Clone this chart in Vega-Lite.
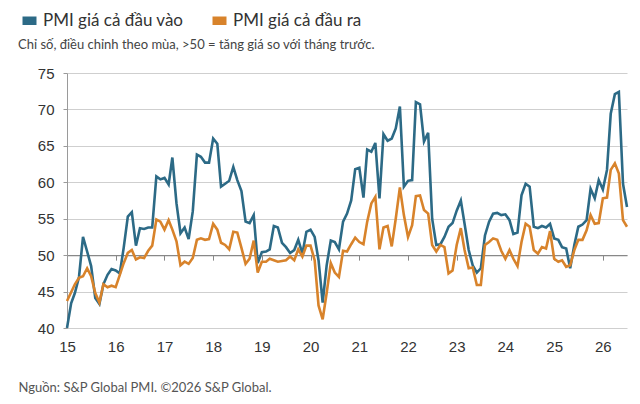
{
  "$schema": "https://vega.github.io/schema/vega-lite/v6.json",
  "width": 560,
  "height": 255,
  "autosize": {"type": "none"},
  "padding": {"left": 67, "top": 73, "right": 13, "bottom": 76},
  "background": "white",
  "config": {"font": "Lato", "view": {"stroke": null}},
  "title": {
    "text": "Chỉ số, điều chỉnh theo mùa, >50 = tăng giá so với tháng trước.",
    "anchor": "start",
    "frame": "group",
    "orient": "top",
    "baseline": "middle",
    "dx": -49,
    "dy": 49,
    "offset": 0,
    "fontSize": 13,
    "fontWeight": "normal",
    "color": "#444"
  },
  "data": {
    "values": [
      {"d": "2015-01", "vao": 40.0, "ra": 43.7},
      {"d": "2015-02", "vao": 43.4, "ra": 44.9},
      {"d": "2015-03", "vao": 44.8, "ra": 46.0},
      {"d": "2015-04", "vao": 47.0, "ra": 46.9},
      {"d": "2015-05", "vao": 52.5, "ra": 47.1},
      {"d": "2015-06", "vao": 50.5, "ra": 48.2},
      {"d": "2015-07", "vao": 48.5, "ra": 47.1},
      {"d": "2015-08", "vao": 44.1, "ra": 44.8},
      {"d": "2015-09", "vao": 43.3, "ra": 43.5},
      {"d": "2015-10", "vao": 46.0, "ra": 46.0},
      {"d": "2015-11", "vao": 47.3, "ra": 45.6},
      {"d": "2015-12", "vao": 48.1, "ra": 45.8},
      {"d": "2016-01", "vao": 47.9, "ra": 45.6},
      {"d": "2016-02", "vao": 47.5, "ra": 47.3},
      {"d": "2016-03", "vao": 51.0, "ra": 48.9},
      {"d": "2016-04", "vao": 55.3, "ra": 50.3},
      {"d": "2016-05", "vao": 55.9, "ra": 50.7},
      {"d": "2016-06", "vao": 51.3, "ra": 49.4},
      {"d": "2016-07", "vao": 53.7, "ra": 49.7},
      {"d": "2016-08", "vao": 53.6, "ra": 49.6},
      {"d": "2016-09", "vao": 53.8, "ra": 50.6},
      {"d": "2016-10", "vao": 53.8, "ra": 51.3},
      {"d": "2016-11", "vao": 60.8, "ra": 54.9},
      {"d": "2016-12", "vao": 60.4, "ra": 54.6},
      {"d": "2017-01", "vao": 60.6, "ra": 53.5},
      {"d": "2017-02", "vao": 59.7, "ra": 54.8},
      {"d": "2017-03", "vao": 63.4, "ra": 53.5},
      {"d": "2017-04", "vao": 57.1, "ra": 51.9},
      {"d": "2017-05", "vao": 53.0, "ra": 48.6},
      {"d": "2017-06", "vao": 53.8, "ra": 49.1},
      {"d": "2017-07", "vao": 52.2, "ra": 48.8},
      {"d": "2017-08", "vao": 56.0, "ra": 49.6},
      {"d": "2017-09", "vao": 63.8, "ra": 52.1},
      {"d": "2017-10", "vao": 63.5, "ra": 52.3},
      {"d": "2017-11", "vao": 62.7, "ra": 52.1},
      {"d": "2017-12", "vao": 62.7, "ra": 52.2},
      {"d": "2018-01", "vao": 66.0, "ra": 54.3},
      {"d": "2018-02", "vao": 65.3, "ra": 53.5},
      {"d": "2018-03", "vao": 59.4, "ra": 51.7},
      {"d": "2018-04", "vao": 59.8, "ra": 51.4},
      {"d": "2018-05", "vao": 60.2, "ra": 50.8},
      {"d": "2018-06", "vao": 62.1, "ra": 53.2},
      {"d": "2018-07", "vao": 60.3, "ra": 53.1},
      {"d": "2018-08", "vao": 58.8, "ra": 51.0},
      {"d": "2018-09", "vao": 54.6, "ra": 48.8},
      {"d": "2018-10", "vao": 54.4, "ra": 49.5},
      {"d": "2018-11", "vao": 55.5, "ra": 52.0},
      {"d": "2018-12", "vao": 48.9, "ra": 47.6},
      {"d": "2019-01", "vao": 50.4, "ra": 49.1},
      {"d": "2019-02", "vao": 50.5, "ra": 49.1},
      {"d": "2019-03", "vao": 50.8, "ra": 49.5},
      {"d": "2019-04", "vao": 54.0, "ra": 49.3},
      {"d": "2019-05", "vao": 53.8, "ra": 49.1},
      {"d": "2019-06", "vao": 51.7, "ra": 49.2},
      {"d": "2019-07", "vao": 51.1, "ra": 49.3},
      {"d": "2019-08", "vao": 50.3, "ra": 49.8},
      {"d": "2019-09", "vao": 50.7, "ra": 49.3},
      {"d": "2019-10", "vao": 52.1, "ra": 50.8},
      {"d": "2019-11", "vao": 50.2, "ra": 49.8},
      {"d": "2019-12", "vao": 53.2, "ra": 51.3},
      {"d": "2020-01", "vao": 53.5, "ra": 51.3},
      {"d": "2020-02", "vao": 52.5, "ra": 49.3},
      {"d": "2020-03", "vao": 49.3, "ra": 43.1},
      {"d": "2020-04", "vao": 43.5, "ra": 41.2},
      {"d": "2020-05", "vao": 48.6, "ra": 44.8},
      {"d": "2020-06", "vao": 52.0, "ra": 48.9},
      {"d": "2020-07", "vao": 51.8, "ra": 47.6},
      {"d": "2020-08", "vao": 50.8, "ra": 47.0},
      {"d": "2020-09", "vao": 54.6, "ra": 50.6},
      {"d": "2020-10", "vao": 55.7, "ra": 50.5},
      {"d": "2020-11", "vao": 57.5, "ra": 51.5},
      {"d": "2020-12", "vao": 61.8, "ra": 52.4},
      {"d": "2021-01", "vao": 62.0, "ra": 51.8},
      {"d": "2021-02", "vao": 57.9, "ra": 51.5},
      {"d": "2021-03", "vao": 64.5, "ra": 54.6},
      {"d": "2021-04", "vao": 64.2, "ra": 57.1},
      {"d": "2021-05", "vao": 65.4, "ra": 58.0},
      {"d": "2021-06", "vao": 57.8, "ra": 50.8},
      {"d": "2021-07", "vao": 66.6, "ra": 53.8},
      {"d": "2021-08", "vao": 65.7, "ra": 54.0},
      {"d": "2021-09", "vao": 66.0, "ra": 51.2},
      {"d": "2021-10", "vao": 67.4, "ra": 55.0},
      {"d": "2021-11", "vao": 70.4, "ra": 59.3},
      {"d": "2021-12", "vao": 59.4, "ra": 55.5},
      {"d": "2022-01", "vao": 60.2, "ra": 52.5},
      {"d": "2022-02", "vao": 60.3, "ra": 54.1},
      {"d": "2022-03", "vao": 71.0, "ra": 58.1},
      {"d": "2022-04", "vao": 70.7, "ra": 58.2},
      {"d": "2022-05", "vao": 65.6, "ra": 56.2},
      {"d": "2022-06", "vao": 66.8, "ra": 55.7},
      {"d": "2022-07", "vao": 55.0, "ra": 51.4},
      {"d": "2022-08", "vao": 51.4, "ra": 50.5},
      {"d": "2022-09", "vao": 51.5, "ra": 51.4},
      {"d": "2022-10", "vao": 52.5, "ra": 51.1},
      {"d": "2022-11", "vao": 53.9, "ra": 47.5},
      {"d": "2022-12", "vao": 54.4, "ra": 47.9},
      {"d": "2023-01", "vao": 56.1, "ra": 51.4},
      {"d": "2023-02", "vao": 57.5, "ra": 53.7},
      {"d": "2023-03", "vao": 54.3, "ra": 50.7},
      {"d": "2023-04", "vao": 50.7, "ra": 48.2},
      {"d": "2023-05", "vao": 48.6, "ra": 48.3},
      {"d": "2023-06", "vao": 47.6, "ra": 45.9},
      {"d": "2023-07", "vao": 48.2, "ra": 45.9},
      {"d": "2023-08", "vao": 52.7, "ra": 51.4},
      {"d": "2023-09", "vao": 54.6, "ra": 51.8},
      {"d": "2023-10", "vao": 55.7, "ra": 52.3},
      {"d": "2023-11", "vao": 55.8, "ra": 52.1},
      {"d": "2023-12", "vao": 55.5, "ra": 50.6},
      {"d": "2024-01", "vao": 55.6, "ra": 49.5},
      {"d": "2024-02", "vao": 54.8, "ra": 50.7},
      {"d": "2024-03", "vao": 52.9, "ra": 49.5},
      {"d": "2024-04", "vao": 53.1, "ra": 48.5},
      {"d": "2024-05", "vao": 58.2, "ra": 51.8},
      {"d": "2024-06", "vao": 59.8, "ra": 54.3},
      {"d": "2024-07", "vao": 59.4, "ra": 53.9},
      {"d": "2024-08", "vao": 53.9, "ra": 50.7},
      {"d": "2024-09", "vao": 53.7, "ra": 50.2},
      {"d": "2024-10", "vao": 54.0, "ra": 51.1},
      {"d": "2024-11", "vao": 53.8, "ra": 50.9},
      {"d": "2024-12", "vao": 54.3, "ra": 53.3},
      {"d": "2025-01", "vao": 52.3, "ra": 49.5},
      {"d": "2025-02", "vao": 52.1, "ra": 49.1},
      {"d": "2025-03", "vao": 51.1, "ra": 49.3},
      {"d": "2025-04", "vao": 50.9, "ra": 48.4},
      {"d": "2025-05", "vao": 48.2, "ra": 48.6},
      {"d": "2025-06", "vao": 51.4, "ra": 50.7},
      {"d": "2025-07", "vao": 53.9, "ra": 52.1},
      {"d": "2025-08", "vao": 54.2, "ra": 52.1},
      {"d": "2025-09", "vao": 54.8, "ra": 53.4},
      {"d": "2025-10", "vao": 59.1, "ra": 55.5},
      {"d": "2025-11", "vao": 57.8, "ra": 54.3},
      {"d": "2025-12", "vao": 60.3, "ra": 54.4},
      {"d": "2026-01", "vao": 59.0, "ra": 57.8},
      {"d": "2026-02", "vao": 61.7, "ra": 57.9},
      {"d": "2026-03", "vao": 69.4, "ra": 61.7},
      {"d": "2026-04", "vao": 72.1, "ra": 62.6},
      {"d": "2026-05", "vao": 72.4, "ra": 61.2},
      {"d": "2026-06", "vao": 59.8, "ra": 54.8},
      {"d": "2026-07", "vao": 56.6, "ra": 53.9}
    ]
  },
  "transform": [{"fold": ["vao", "ra"], "as": ["s", "v"]}],
  "mark": {"type": "line", "strokeWidth": 2.6},
  "encoding": {
    "x": {
      "field": "d",
      "type": "temporal",
      "scale": {"type": "utc"},
      "axis": {
        "title": "Nguồn: S&P Global PMI. ©2026 S&P Global.",
        "titleAnchor": "start",
        "titleAlign": "left",
        "titleBaseline": "alphabetic",
        "titleX": -49,
        "titleY": 136,
        "titleFontSize": 13,
        "titleFontWeight": "normal",
        "titleColor": "#555",
        "offset": -72.86,
        "labelExpr": "utcFormat(datum.value, '%y')",
        "tickCount": {"interval": "year", "step": 1},
        "grid": false,
        "domainColor": "#888",
        "domainWidth": 1.2,
        "tickColor": "#888",
        "tickSize": 5,
        "labelPadding": 79,
        "labelFont": "Liberation Sans",
        "labelFontSize": 15,
        "labelColor": "#333",
        "labelFlush": false
      }
    },
    "y": {
      "field": "v",
      "type": "quantitative",
      "scale": {"domain": [40, 75], "nice": false, "zero": false},
      "axis": {
        "title": null,
        "values": [40, 45, 50, 55, 60, 65, 70, 75],
        "gridColor": "#cfcfcf",
        "domainColor": "#9a9a9a",
        "tickColor": "#9a9a9a",
        "tickSize": 4,
        "labelPadding": 9,
        "labelFont": "Liberation Sans",
        "labelFontSize": 15,
        "labelColor": "#333"
      }
    },
    "color": {
      "field": "s",
      "type": "nominal",
      "scale": {"domain": ["vao", "ra"], "range": ["#2c6a86", "#d8832b"]},
      "legend": {
        "title": null,
        "orient": "none",
        "legendX": -49,
        "legendY": -64,
        "direction": "horizontal",
        "symbolType": "stroke",
        "symbolSize": 196,
        "symbolStrokeWidth": 8.5,
        "labelFontSize": 17,
        "labelColor": "#333",
        "labelOffset": 2,
        "columnPadding": 11,
        "labelExpr": "datum.value == 'vao' ? 'PMI giá cả đầu vào' : 'PMI giá cả đầu ra'"
      }
    }
  }
}
